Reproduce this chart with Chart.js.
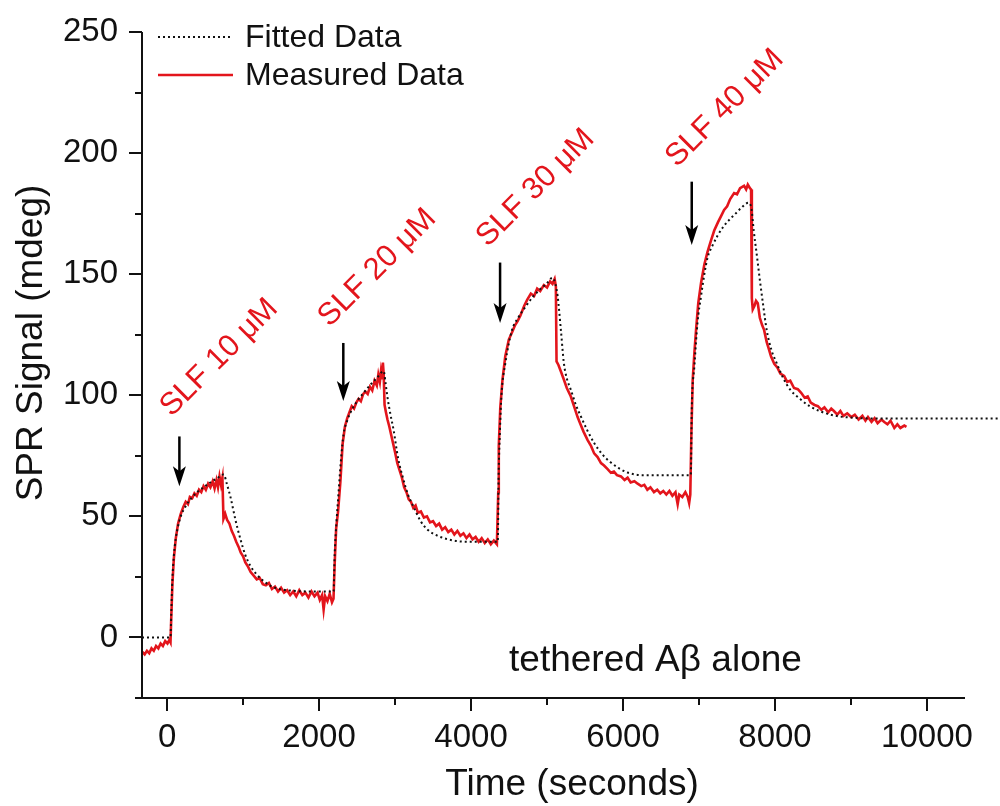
<!DOCTYPE html>
<html>
<head>
<meta charset="utf-8">
<title>SPR Signal</title>
<script src="https://cdn.jsdelivr.net/npm/chart.js@4.4.1/dist/chart.umd.min.js"></script>
<style>
    html, body { margin: 0; padding: 0; background: #fff; }
    #wrap { width: 1000px; height: 806px; }
</style>
</head>
<body>
<div id="wrap"><canvas id="sprChart" width="1000" height="806"></canvas></div>
<script>
// === data ===
var measuredTime = [
    -325, -295, -265, -235, -205, -175, -145, -115, -85, -55, -25, 5, 30, 45,
    55, 70, 90, 115, 145, 180, 215, 245, 275, 300, 330, 360, 390, 420, 450, 480, 510, 540, 570, 600, 625, 650, 670, 690, 710, 728,
    742, 765, 790, 820, 850, 880, 910, 940, 970, 1000, 1030, 1060, 1100, 1140, 1180, 1220, 1260, 1300, 1340, 1380, 1420, 1460,
    1500, 1540, 1580, 1620, 1660, 1700, 1740, 1780, 1820, 1860, 1900, 1940, 1980, 2010, 2040, 2060, 2080, 2110, 2140, 2170, 2190,
    2205, 2225, 2250, 2280, 2310, 2340, 2370, 2400, 2430, 2460, 2490, 2520, 2550, 2580, 2610, 2640, 2670, 2700, 2730, 2760, 2780,
    2800, 2815, 2830, 2840, 2850, 2862, 2880, 2900, 2925, 2950, 2975, 3000, 3030, 3060, 3090, 3120, 3150, 3180, 3210, 3240, 3270,
    3300, 3340, 3380, 3420, 3460, 3500, 3540, 3580, 3620, 3660, 3700, 3740, 3780, 3820, 3860, 3900, 3940, 3980, 4020, 4060, 4100,
    4140, 4180, 4220, 4260, 4300, 4340,
    4358, 4365, 4385, 4414, 4450, 4497, 4540, 4580, 4611, 4650, 4700, 4740, 4787, 4830, 4870, 4910, 4958, 5000, 5040, 5072, 5100,
    5116, 5125, 5150, 5180, 5221, 5260, 5313, 5360, 5402, 5440, 5480, 5534, 5580, 5620, 5665, 5710, 5750, 5797, 5840, 5880, 5920,
    5973, 6020, 6060, 6100, 6150, 6192, 6240, 6280, 6320, 6360, 6407, 6450, 6490, 6530, 6570, 6610, 6650, 6690, 6719, 6740, 6780,
    6820, 6851, 6870, 6885,
    6900, 6917, 6940, 6961, 6990, 7027, 7070, 7110, 7158, 7200, 7250, 7290, 7330, 7370, 7410, 7462, 7500, 7540, 7593, 7620, 7642,
    7670, 7685, 7695, 7707, 7730, 7750, 7773, 7800, 7830, 7856, 7890, 7920, 7948, 7990, 8030, 8070, 8120, 8160, 8200, 8250, 8300,
    8344, 8390, 8430, 8470, 8520, 8564, 8610, 8650, 8700, 8740, 8775, 8820, 8860, 8900, 8950, 9004, 9050, 9100, 9150, 9190, 9223,
    9270, 9310, 9350, 9400, 9438, 9480, 9520, 9570, 9610, 9650, 9702, 9730
];
var measuredSignal = [
    -6, -7, -5.5, -6.5, -4.5, -5.5, -3.5, -4.5, -2.5, -3.5, -1.5, -2.5, -1, -2,
    8, 22, 33, 41, 47, 51, 54, 56, 55, 58, 57.5, 59.5, 58.5, 61, 60, 62.5, 61, 63.5, 62, 64.5, 61.5, 65, 62, 66.5, 63, 66,
    49, 51, 48.5, 47, 44, 42, 39.5, 37.5, 35, 33.5, 31, 29.5, 27, 25.5, 24, 24.5, 22, 21.5, 22.5, 20, 21, 19,
    20.5, 18.5, 19.5, 17.5, 19, 17, 19.5, 17.5, 18.5, 16.5, 19, 17, 18.5, 15.5, 17.5, 11.5, 17, 15, 18, 14.5, 16,
    30, 45, 52, 64, 80, 87, 90.5, 93, 95.5, 94.5, 97, 98.5, 97.5, 100.5, 101.5, 100.5, 103.5, 102, 106, 104, 108.5,
    105.5, 110, 107, 113.5, 109, 96, 93, 90, 87, 83.5, 80, 76.5, 72, 69, 66, 62, 60, 57, 56, 53.5, 54.5,
    51.5, 52, 49.5, 50, 47.5, 48, 46, 47, 44.5, 45.5, 43.5, 44.5, 42.5, 44, 42, 43, 41, 42.5, 40.5, 41.5, 39.5,
    41, 39, 40.5, 38.5, 40, 38.5,
    60, 79, 95, 106.5, 116, 123, 126, 129, 130.5, 133, 137, 139.5, 142, 141, 144, 143, 145.5, 144.5, 147, 146, 148,
    145, 114, 112.5, 110, 106.5, 103, 99.5, 95, 91, 88, 85, 81.5, 79, 76, 74.5, 72, 71, 69.5, 68, 68.5, 67,
    66.5, 65, 66, 64, 64.5, 63.5, 62.5, 63, 61, 62, 60, 61, 59.5, 60.5, 59, 60.5, 58.5, 60, 55, 59, 58,
    60, 58, 55.5, 59,
    85, 106.5, 118, 127, 138, 146.5, 154, 159, 164, 168, 171.5, 174, 176.5, 178, 181, 183.5, 183, 185.5, 186.5, 185, 187,
    185.5, 185, 140, 135.5, 137, 139, 138, 132, 129, 127, 122, 119, 116, 113, 111.5, 109, 108, 105.5, 106, 103, 102.5,
    101, 99, 99.5, 97, 96, 95.5, 94, 95, 93, 94.5, 93.5, 92, 93.5, 91.5, 92.5, 91, 92, 90, 91.5, 89.5, 91,
    89, 90.5, 88.5, 90, 89, 88, 89.5, 86.5, 88, 86.5, 87.5, 87
];

var fittedTime = [
    -330, 45, 55, 70, 90, 115, 145, 180, 241, 320, 395, 480, 570, 660, 745,
    790, 834, 900, 966, 1030, 1097, 1180, 1269, 1380, 1493, 1650, 1900, 2191,
    2205, 2230, 2257, 2290, 2323, 2370, 2415, 2500, 2586, 2680, 2771, 2850,
    2875, 2898, 2940, 2980, 3040, 3110, 3170, 3240, 3337, 3425, 3557, 3772, 4000, 4352,
    4362, 4380, 4400, 4450, 4540, 4620, 4720, 4810, 4900, 4990, 5072,
    5110, 5140, 5182, 5221, 5260, 5313, 5380, 5445, 5530, 5616, 5730, 5840, 5950, 6060, 6250, 6500, 6891,
    6905, 6939, 6980, 7027, 7070, 7114, 7180, 7246, 7330, 7400, 7480, 7560, 7650,
    7690, 7720, 7760, 7800, 7845, 7890, 7950, 8020, 8110, 8200, 8330, 8460, 8600, 8730, 8860, 9000, 9300, 11000
];
var fittedSignal = [
    0, 0, 10, 24, 34, 41, 46, 50, 54, 57.5, 60, 62, 64, 65.8, 67.3,
    63, 58, 48.5, 40.5, 34, 29.5, 26, 23.3, 21, 19.9, 19.3, 19, 19,
    34, 48, 60, 74, 84, 89.5, 93, 97.5, 101, 104.5, 107.5, 110,
    105, 99.6, 92, 85.8, 74, 65.2, 59, 54.2, 48, 44.6, 42, 40, 39.5, 39.5,
    65, 85, 100, 113, 127, 132, 136.7, 140.5, 143.5, 146, 148.5,
    146, 140.8, 127, 113.4, 107, 102.3, 96, 91.3, 85.5, 80.5, 75.5, 72.2, 69.8, 68.1, 67, 67, 67,
    95, 112, 130, 141, 150, 157, 162, 166, 170, 172.5, 175, 177.5, 179.5,
    177, 168, 158, 147.7, 137, 127, 119, 113.4, 107, 102.3, 98.5, 95.4, 93.3, 92, 91.2, 90.8, 90.4, 90.4
];

// injections: arrow time, arrow top/tip and label anchor (data units)
var injectionLabels = ["SLF 10 \u03bcM", "SLF 20 \u03bcM", "SLF 30 \u03bcM", "SLF 40 \u03bcM"];
var arrowTime = [162, 2319, 4382, 6904];
var arrowTop = [83, 121.6, 154.8, 188.2];
var arrowTip = [62.4, 97.6, 129.8, 162.1];
var labelTime = [57, 2138, 4220, 6710];
var labelSignal = [90.8, 127.9, 160.9, 193.8];

// tick labels
var xTickValues = [0, 2000, 4000, 6000, 8000, 10000];
var yTickValues = [0, 50, 100, 150, 200, 250];
var xMinorStep = 1000;
var yMinorStep = 25;

var xTitle = 'Time (seconds)';
var yTitle = 'SPR Signal (mdeg)';
var sampleNote = 'tethered A\u03b2 alone';

var FONT = "'Liberation Sans', Arial, Helvetica, sans-serif";
var RED = '#e3151c';
var INK = '#111';

function toPoints(xs, ys) {
    var pts = [];
    for (var i = 0; i < xs.length; i++) pts.push({ x: xs[i], y: ys[i] });
    return pts;
}

function fixedTicks(values) {
    return function(scale) {
        scale.ticks = values.map(function(v) { return { value: v }; });
    };
}

// === axes drawn Origin-style: outward ticks, short minors ===
var originAxes = {
    id: 'originAxes',
    afterDraw: function(chart) {
        var ctx = chart.ctx, a = chart.chartArea;
        var xs = chart.scales.x, ys = chart.scales.y;
        ctx.save();
        ctx.strokeStyle = INK;
        ctx.lineWidth = 2;
        ctx.beginPath();
        ctx.moveTo(a.left, a.top); ctx.lineTo(a.left, a.bottom);
        ctx.moveTo(a.left - 7, a.bottom); ctx.lineTo(a.right, a.bottom);
        ctx.stroke();
        ctx.beginPath();
        for (var v = Math.ceil(xs.min / xMinorStep) * xMinorStep; v <= xs.max; v += xMinorStep) {
            var px = Math.round(xs.getPixelForValue(v));
            ctx.moveTo(px, a.bottom);
            ctx.lineTo(px, a.bottom + (xTickValues.indexOf(v) >= 0 ? 13 : 7));
        }
        for (var w = Math.ceil(ys.min / yMinorStep) * yMinorStep; w <= ys.max; w += yMinorStep) {
            var py = Math.round(ys.getPixelForValue(w));
            ctx.moveTo(a.left, py);
            ctx.lineTo(a.left - (yTickValues.indexOf(w) >= 0 ? 13 : 7), py);
        }
        ctx.stroke();

        // axis titles
        ctx.fillStyle = INK;
        ctx.font = '37px ' + FONT;
        ctx.textAlign = 'center';
        ctx.textBaseline = 'alphabetic';
        ctx.fillText(xTitle, 572, 795);
        ctx.save();
        ctx.translate(42, 343);
        ctx.rotate(-Math.PI / 2);
        ctx.fillText(yTitle, 0, 0);
        ctx.restore();
        ctx.restore();
    }
};

// === legend, arrows and labels ===
var annotations = {
    id: 'annotations',
    afterDatasetsDraw: function(chart) {
        var ctx = chart.ctx, a = chart.chartArea;
        var xs = chart.scales.x, ys = chart.scales.y;
        ctx.save();

        // legend (top left, inside the plot)
        var sets = chart.data.datasets;
        var rows = [37, 75];
        ctx.font = '32px ' + FONT;
        ctx.textBaseline = 'middle';
        ctx.textAlign = 'left';
        for (var i = 0; i < sets.length; i++) {
            ctx.strokeStyle = sets[i].borderColor;
            ctx.lineWidth = sets[i].borderWidth;
            ctx.setLineDash(sets[i].borderDash || []);
            ctx.beginPath();
            ctx.moveTo(a.left + 16, rows[i]);
            ctx.lineTo(a.left + 91, rows[i]);
            ctx.stroke();
            ctx.fillStyle = INK;
            ctx.fillText(sets[i].label, a.left + 103, rows[i] + 1);
        }
        ctx.setLineDash([]);

        // injection arrows
        ctx.strokeStyle = '#000';
        ctx.fillStyle = '#000';
        ctx.lineWidth = 2.5;
        for (var j = 0; j < arrowTime.length; j++) {
            var ax = xs.getPixelForValue(arrowTime[j]);
            var top = ys.getPixelForValue(arrowTop[j]);
            var tip = ys.getPixelForValue(arrowTip[j]);
            ctx.beginPath();
            ctx.moveTo(ax, top);
            ctx.lineTo(ax, tip - 14);
            ctx.stroke();
            ctx.beginPath();
            ctx.moveTo(ax - 6.5, tip - 20);
            ctx.lineTo(ax, tip - 15);
            ctx.lineTo(ax + 6.5, tip - 20);
            ctx.lineTo(ax, tip);
            ctx.closePath();
            ctx.fill();
        }

        // rotated concentration labels
        ctx.fillStyle = RED;
        ctx.font = '31px ' + FONT;
        ctx.textBaseline = 'alphabetic';
        for (var k = 0; k < injectionLabels.length; k++) {
            ctx.save();
            ctx.translate(xs.getPixelForValue(labelTime[k]), ys.getPixelForValue(labelSignal[k]));
            ctx.rotate(-Math.PI / 4);
            ctx.fillText(injectionLabels[k], 0, 0);
            ctx.restore();
        }

        // sample note
        ctx.fillStyle = INK;
        ctx.font = '37px ' + FONT;
        ctx.fillText(sampleNote, xs.getPixelForValue(4500), ys.getPixelForValue(-14));
        ctx.restore();
    }
};

var sprCtx = document.getElementById('sprChart').getContext('2d');
var sprChart = new Chart(sprCtx, {
    type: 'line',
    data: {
        datasets: [{
            label: 'Fitted Data',
            data: toPoints(fittedTime, fittedSignal),
            borderColor: INK,
            borderWidth: 2,
            borderDash: [2, 3],
            pointRadius: 0,
            cubicInterpolationMode: 'monotone',
            clip: false,
            fill: false
        }, {
            label: 'Measured Data',
            data: toPoints(measuredTime, measuredSignal),
            borderColor: RED,
            borderWidth: 2.6,
            pointRadius: 0,
            tension: 0,
            fill: false
        }]
    },
    options: {
        responsive: false,
        animation: false,
        layout: { padding: { top: 32, right: 35, left: 0, bottom: 0 } },
        plugins: {
            legend: { display: false },
            tooltip: { enabled: false }
        },
        scales: {
            x: {
                type: 'linear',
                min: -330,
                max: 10500,
                afterBuildTicks: fixedTicks(xTickValues),
                afterFit: function(scale) {
                    scale.height = 108;
                    scale.paddingLeft = 0;
                    scale.paddingRight = 0;
                },
                grid: { display: false },
                border: { display: false },
                ticks: {
                    autoSkip: false,
                    maxRotation: 0,
                    padding: 12,
                    color: INK,
                    font: { family: FONT, size: 33 },
                    callback: function(v) { return String(v); }
                }
            },
            y: {
                min: -25,
                max: 250,
                afterBuildTicks: fixedTicks(yTickValues),
                afterFit: function(scale) {
                    scale.width = 142;
                    scale.paddingTop = 0;
                    scale.paddingBottom = 0;
                },
                grid: { display: false },
                border: { display: false },
                ticks: {
                    autoSkip: false,
                    padding: 16,
                    color: INK,
                    font: { family: FONT, size: 33 },
                    callback: function(v) { return String(v); }
                }
            }
        }
    },
    plugins: [originAxes, annotations]
});
</script>
</body>
</html>
